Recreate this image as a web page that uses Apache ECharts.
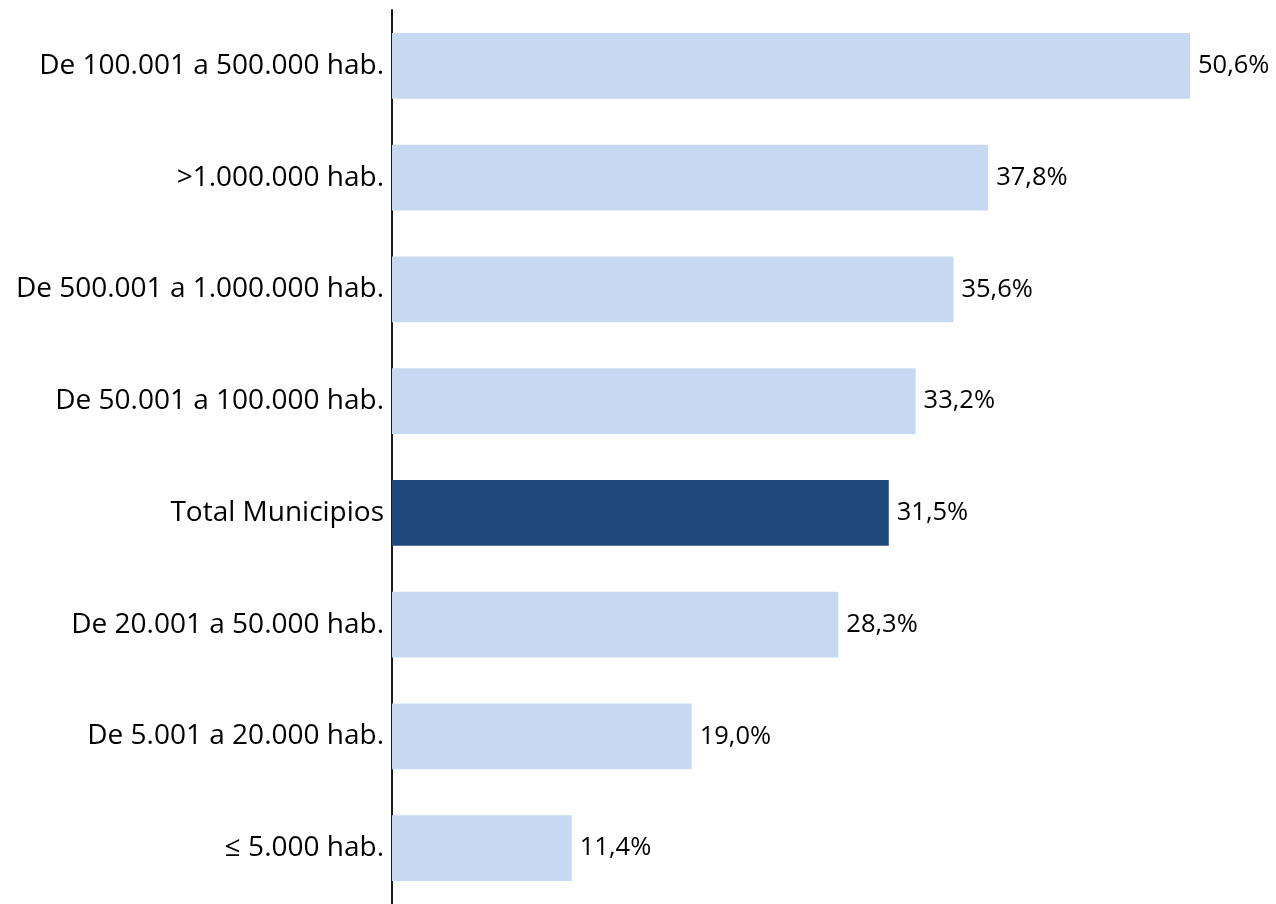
<!DOCTYPE html>
<html>
<head>
<meta charset="utf-8">
<script src="https://cdn.jsdelivr.net/npm/echarts@6/dist/echarts.min.js"></script>
<style>html,body{margin:0;padding:0;background:#fff;}#c{width:1276px;height:904px;}</style>
</head>
<body>
<div id="c"></div>
<script>
const categories = ['De 100.001 a 500.000 hab.', '>1.000.000 hab.', 'De 500.001 a 1.000.000 hab.', 'De 50.001 a 100.000 hab.', 'Total Municipios', 'De 20.001 a 50.000 hab.', 'De 5.001 a 20.000 hab.', '≤ 5.000 hab.'];
const values = [50.6, 37.8, 35.6, 33.2, 31.5, 28.3, 19.0, 11.4];
const highlight = 'Total Municipios';

const chart = echarts.init(document.getElementById('c'), null, {renderer: 'canvas'});
const FONT = '"Open Sans", Lato, sans-serif';
chart.setOption({
  animation: false,
  grid: {left: 392, top: 10, width: 867.4, height: 899.4, containLabel: false},
  xAxis: {type: 'value', min: 0, max: 55, show: false},
  yAxis: {
    type: 'category', data: categories, inverse: true,
    axisLine: {show: true, lineStyle: {color: '#1a1a1a', width: 2}},
    axisTick: {show: false},
    axisLabel: {color: '#000', fontSize: 28, fontFamily: FONT, margin: 8}
  },
  series: [{
    type: 'bar',
    barCategoryGap: '41%',
    data: values.map((v, i) => ({value: v, itemStyle: {color: categories[i] === highlight ? '#204A7C' : '#C6D9F0'}})),
    label: {show: true, position: 'right', distance: 8, color: '#000', fontSize: 25.5, fontFamily: FONT,
      formatter: p => p.value.toFixed(1).replace('.', ',') + '%'}
  }]
});
</script>
</body>
</html>
